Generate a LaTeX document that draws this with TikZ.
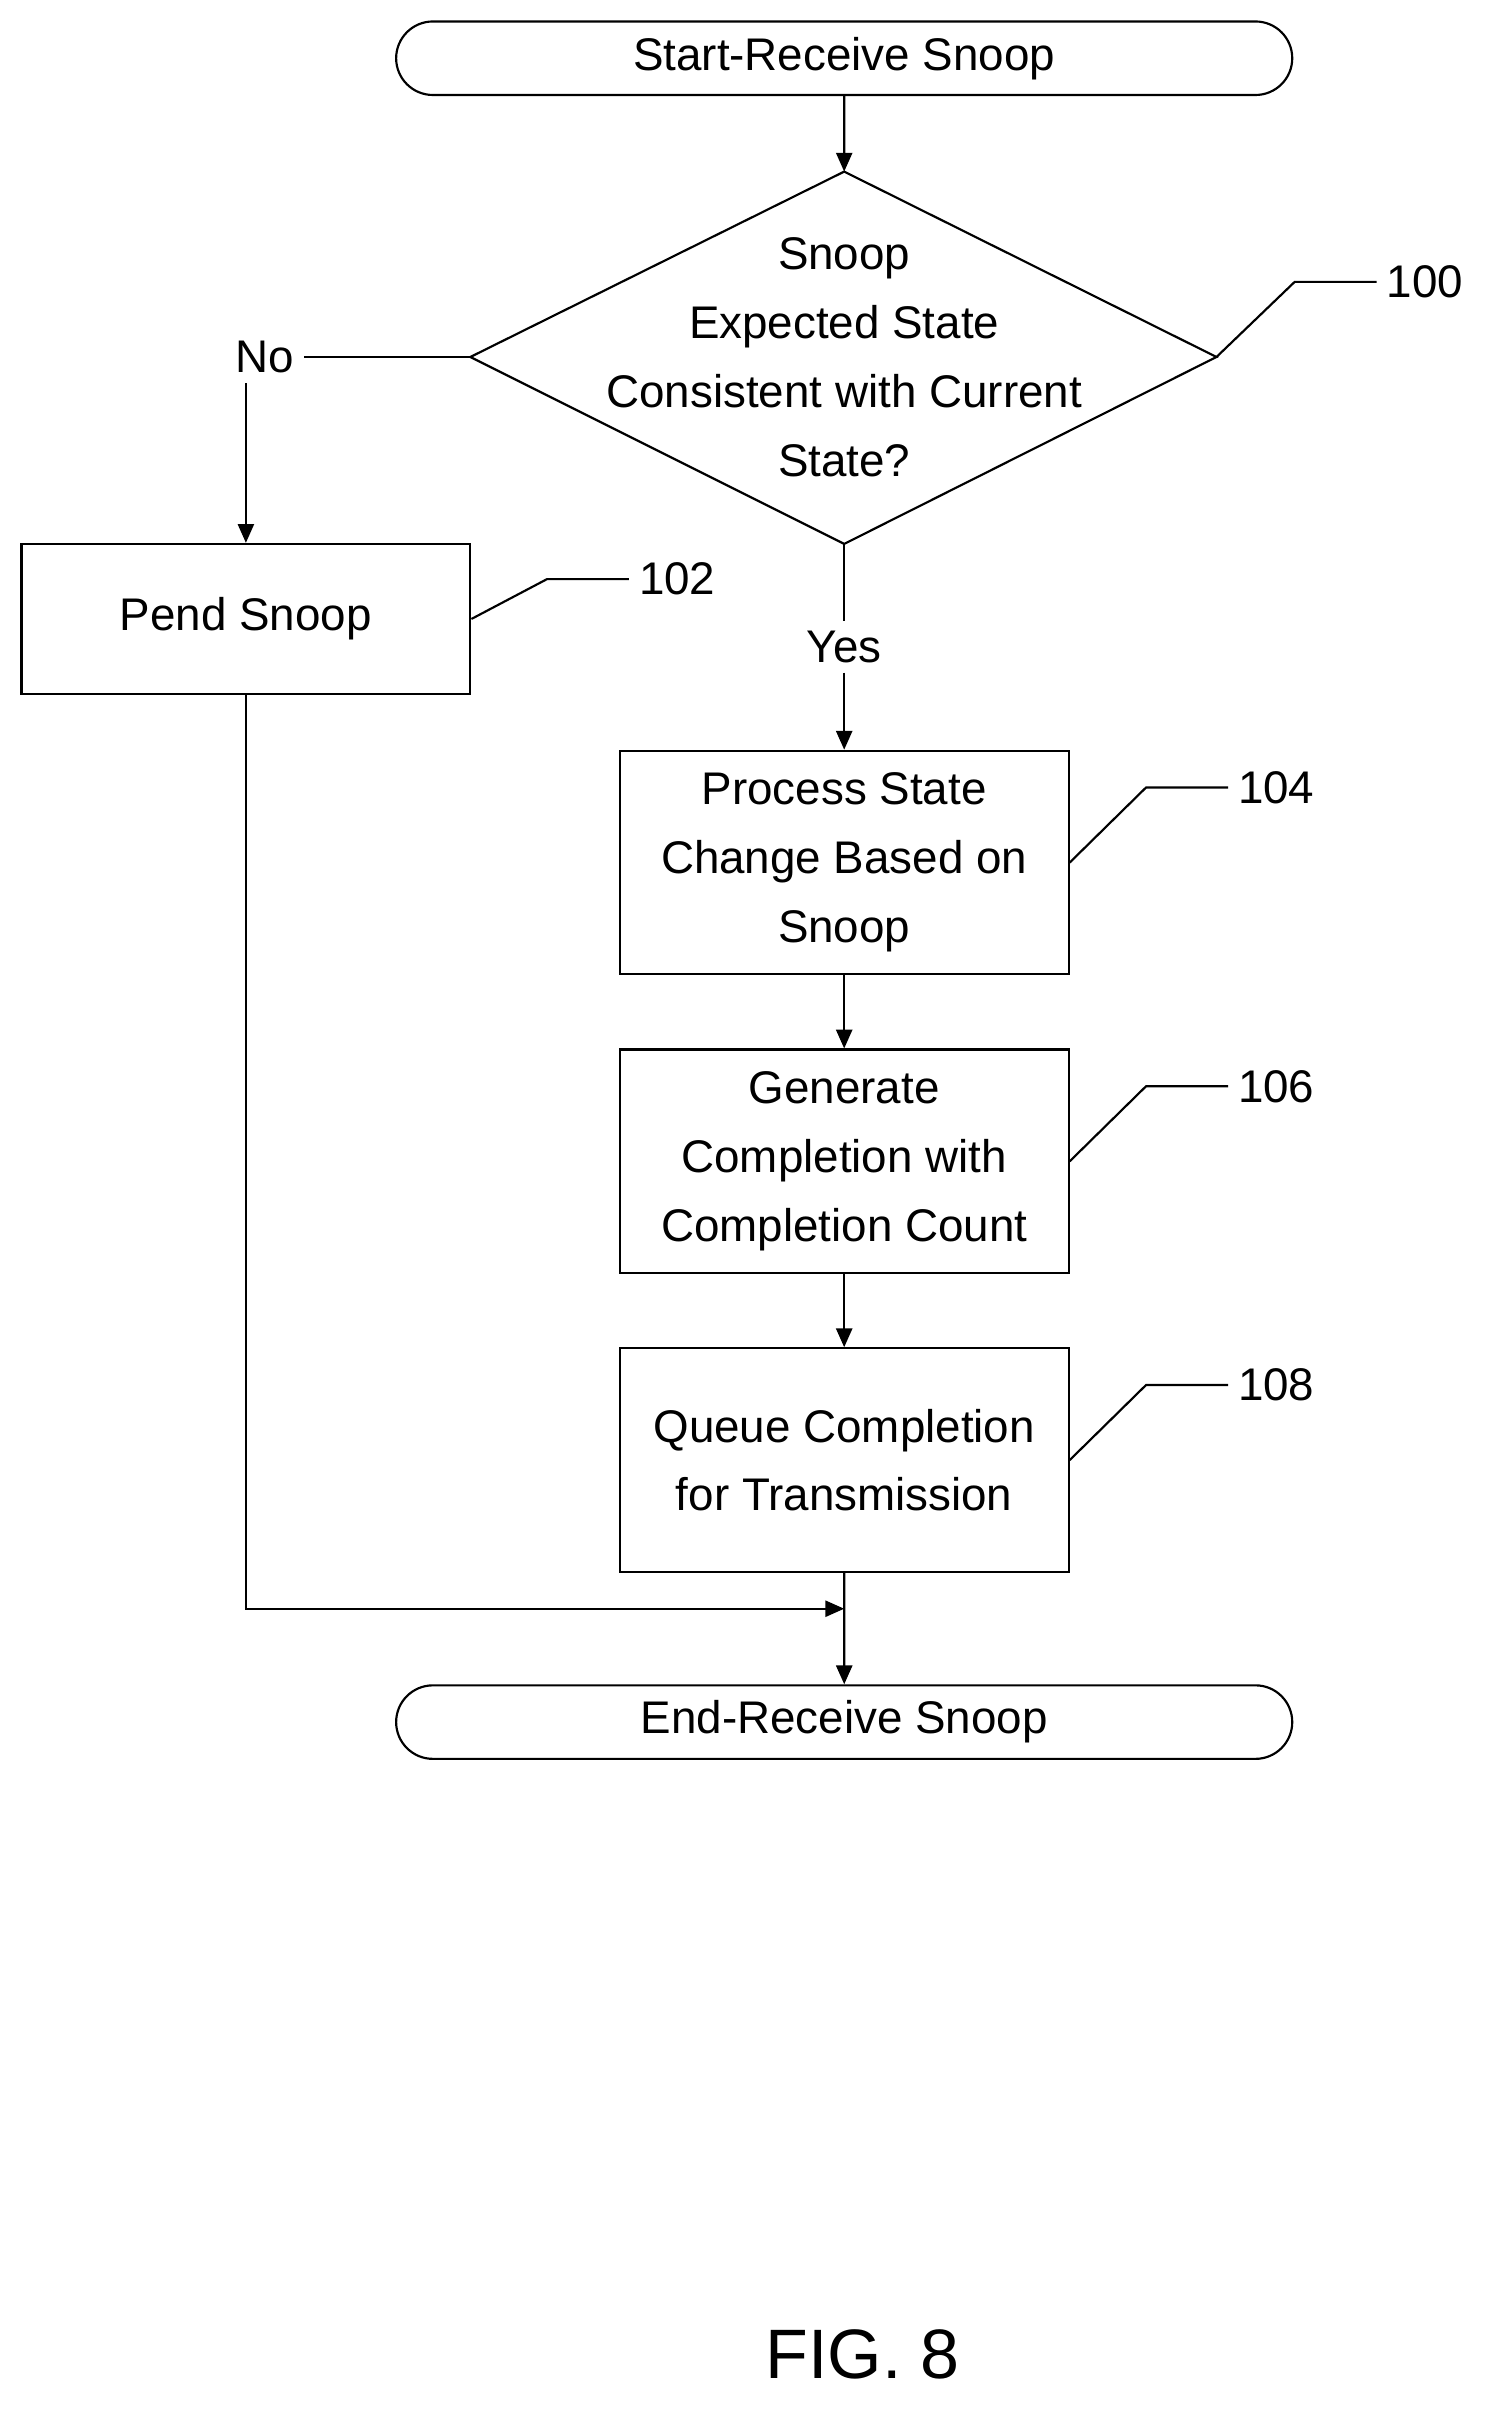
\documentclass[tikz,border=0pt]{standalone}
\usepackage{fontspec}
\setmainfont{Liberation Sans}
\usetikzlibrary{shapes.geometric, positioning, arrows.meta}
\tikzset{
txt/.style={font=\fontsize{17}{25.6}\selectfont, align=center},
process/.style={txt, shape=rectangle, draw, minimum width=5.86cm, minimum height=2.92cm, inner sep=0},
terminal/.style={txt, shape=rounded rectangle, draw, minimum width=11.7cm, minimum height=0.96cm, inner sep=0},
decision/.style={txt, shape=diamond, draw, minimum width=9.74cm, minimum height=4.86cm, inner sep=0, aspect=2},
ref/.style={txt}}
\usetikzlibrary{shapes.misc}
\begin{document}
\begin{tikzpicture}[x=0.02cm, y=-0.02cm, line width=0.8pt, >={Triangle[length=7pt, width=6pt]}]
\useasboundingbox (0,0) rectangle (970,1573);
\node [terminal] at (551,38) (start) {Start-Receive Snoop};
\node [txt, draw=none] at (551,233) (dtext) {Snoop\\Expected State\\Consistent with Current\\State?};
\draw (551,112) coordinate (dt) -- (794,233) coordinate (dr) -- (551,355) coordinate (db) -- (307,233) coordinate (dl) -- cycle;
\node [txt] at (173,233) (no) {No};
\node [process, minimum height=1.96cm] at (160.5,404) (pend) {Pend Snoop};
\node [txt] at (551,422) (yes) {Yes};
\node [process] at (551,563) (proc) {Process State\\Change Based on\\Snoop};
\node [process] at (551,758) (gen) {Generate\\Completion with\\Completion Count};
\node [process] at (551,953) (queue) {Queue Completion\\for Transmission};
\node [terminal] at (551,1124) (end) {End-Receive Snoop};
\coordinate (join) at (551,1050);
% connectors
\draw [->] (start) -- (dt);
\draw (dl) -- (no.east);
\draw [->] (no.south -| pend) -- (pend);
\draw (db) -- (yes.north);
\draw [->] (yes.south) -- (proc);
\draw [->] (proc) -- (gen);
\draw [->] (gen) -- (queue);
\draw [->] (queue) -- (end);
\draw [->] (pend) |- (join);
% reference numerals
\node [ref] at (930,184) (r100) {100};
\draw (dr) -- (845,184) -- (r100.west);
\node [ref] at (442,378) (r102) {102};
\draw (pend.east) -- (357,378) -- (r102.west);
\foreach \n/\b/\y in {104/proc/514, 106/gen/709, 108/queue/904}{
  \node [ref] at (833,\y) (r\n) {\n};
  \draw (\b.east) -- (748,\y) -- (r\n.west);
}
\node [font=\fontsize{26}{30}\selectfont] at (563,1537) (fig) {FIG. 8};
\end{tikzpicture}
\end{document}
